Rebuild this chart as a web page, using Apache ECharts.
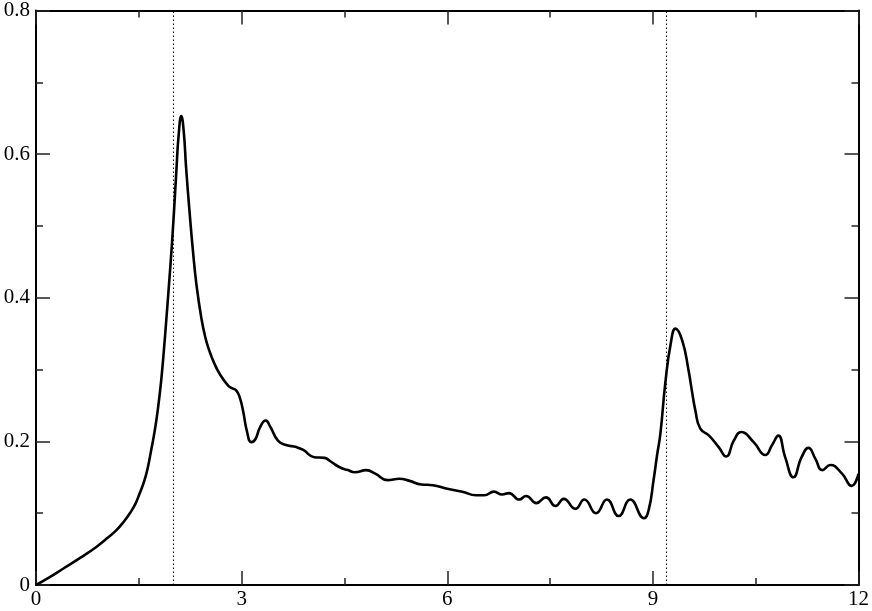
<!DOCTYPE html>
<html lang="en">

<head>
    <meta charset="UTF-8">
    <title>Spectrum</title>
    <script src="https://cdn.jsdelivr.net/npm/echarts@6/dist/echarts.min.js"></script>
    <style>
        * {
            margin: 0;
            padding: 0;
        }

        #main {
            width: 872px;
            height: 611px;
            background: #fff;
        }
    </style>
</head>

<body>
    <div id="main"></div>
    <script>
        // curve
        const xValues = [
            0, 0.2, 0.4, 0.65, 0.88, 1.05, 1.17, 1.28, 1.37, 1.45,
            1.51, 1.58, 1.63, 1.68, 1.72, 1.76, 1.8, 1.83, 1.865, 1.9,
            1.94, 1.976, 2.01, 2.05, 2.08, 2.12, 2.155, 2.19, 2.24, 2.29,
            2.34, 2.41, 2.47, 2.53, 2.6, 2.68, 2.8, 2.86, 2.92, 2.97,
            3.02, 3.08, 3.14, 3.2, 3.27, 3.35, 3.42, 3.53, 3.65, 3.8,
            3.9, 4.06, 4.21, 4.3, 4.43, 4.55, 4.65, 4.82, 4.95, 5.13,
            5.3, 5.45, 5.62, 5.79, 6.0, 6.22, 6.42, 6.54, 6.68, 6.8,
            6.9, 7.05, 7.15, 7.3, 7.44, 7.58, 7.7, 7.87, 8.0, 8.17,
            8.33, 8.5, 8.67, 8.87, 8.94, 9.01, 9.06, 9.11, 9.18, 9.26,
            9.33, 9.43, 9.52, 9.57, 9.62, 9.69, 9.82, 9.96, 10.07, 10.18,
            10.29, 10.47, 10.64, 10.74, 10.83, 10.93, 11.05, 11.17, 11.27, 11.37,
            11.47, 11.59, 11.76, 11.9, 12.0
        ];
        const yValues = [
            0, 0.011, 0.023, 0.038, 0.053, 0.066, 0.076, 0.088, 0.1, 0.113,
            0.127, 0.145, 0.163, 0.1875, 0.208, 0.232, 0.262, 0.288, 0.326, 0.368,
            0.418, 0.465, 0.515, 0.58, 0.625, 0.653, 0.632, 0.581, 0.52, 0.465,
            0.419, 0.373, 0.345, 0.326, 0.309, 0.294, 0.278, 0.274, 0.271, 0.262,
            0.243, 0.213, 0.199, 0.203, 0.22, 0.229, 0.22, 0.201, 0.195, 0.192,
            0.188, 0.178, 0.177, 0.172, 0.164, 0.16, 0.157, 0.16, 0.155, 0.146,
            0.148, 0.145, 0.14, 0.139, 0.134, 0.13, 0.125, 0.125, 0.13, 0.126,
            0.128, 0.119, 0.124, 0.114, 0.122, 0.11, 0.12, 0.106, 0.119, 0.1,
            0.119, 0.096, 0.119, 0.093, 0.105, 0.146, 0.18, 0.211, 0.28, 0.336,
            0.357, 0.34, 0.299, 0.27, 0.243, 0.218, 0.208, 0.192, 0.179, 0.201,
            0.213, 0.199, 0.181, 0.195, 0.208, 0.178, 0.15, 0.178, 0.191, 0.176,
            0.16, 0.167, 0.155, 0.138, 0.155
        ];
        // dotted vertical markers
        const refLines = [2.0, 9.2];

        const points = xValues.map((x, i) => [x, yValues[i]]);

        let myChart = echarts.init(document.getElementById('main'));

        const font = '"Liberation Serif", "DejaVu Serif", serif';
        function frameAxis(pos, min, max, interval, showLabel, decimals) {
            return {
                type: 'value',
                position: pos,
                min: min,
                max: max,
                interval: interval,
                axisLine: { show: true, onZero: false, lineStyle: { color: '#000', width: 2 } },
                axisTick: { show: true, inside: true, length: 14, lineStyle: { color: '#222', width: 1.5 } },
                minorTick: { show: true, splitNumber: 2, length: 7, lineStyle: { color: '#222', width: 1.5 } },
                splitLine: { show: false },
                minorSplitLine: { show: false },
                axisLabel: {
                    show: showLabel,
                    color: '#000',
                    fontFamily: font,
                    fontSize: 21,
                    margin: pos === 'left' ? 6 : 4,
                    formatter: v => decimals ? (v === 0 ? '0' : v.toFixed(1)) : String(v)
                }
            };
        }

        myChart.setOption({
            animation: false,
            backgroundColor: '#fff',
            textStyle: { fontFamily: font },
            grid: { left: 36, right: 12, top: 9, bottom: 26 },
            xAxis: [
                frameAxis('bottom', 0, 12, 3, true, false),
                frameAxis('top', 0, 12, 3, false, false)
            ],
            yAxis: [
                frameAxis('left', 0, 0.8, 0.2, true, true),
                frameAxis('right', 0, 0.8, 0.2, false, true)
            ],
            series: [{
                type: 'line',
                data: points,
                showSymbol: false,
                symbol: 'none',
                smooth: 0.5,
                lineStyle: { color: '#000', width: 2.6 },
                markLine: {
                    silent: true,
                    symbol: ['none', 'none'],
                    label: { show: false },
                    lineStyle: { color: '#000', width: 1, type: [1.5, 2.5] },
                    data: refLines.map(v => ({ xAxis: v }))
                }
            }]
        });
    </script>
</body>

</html>
